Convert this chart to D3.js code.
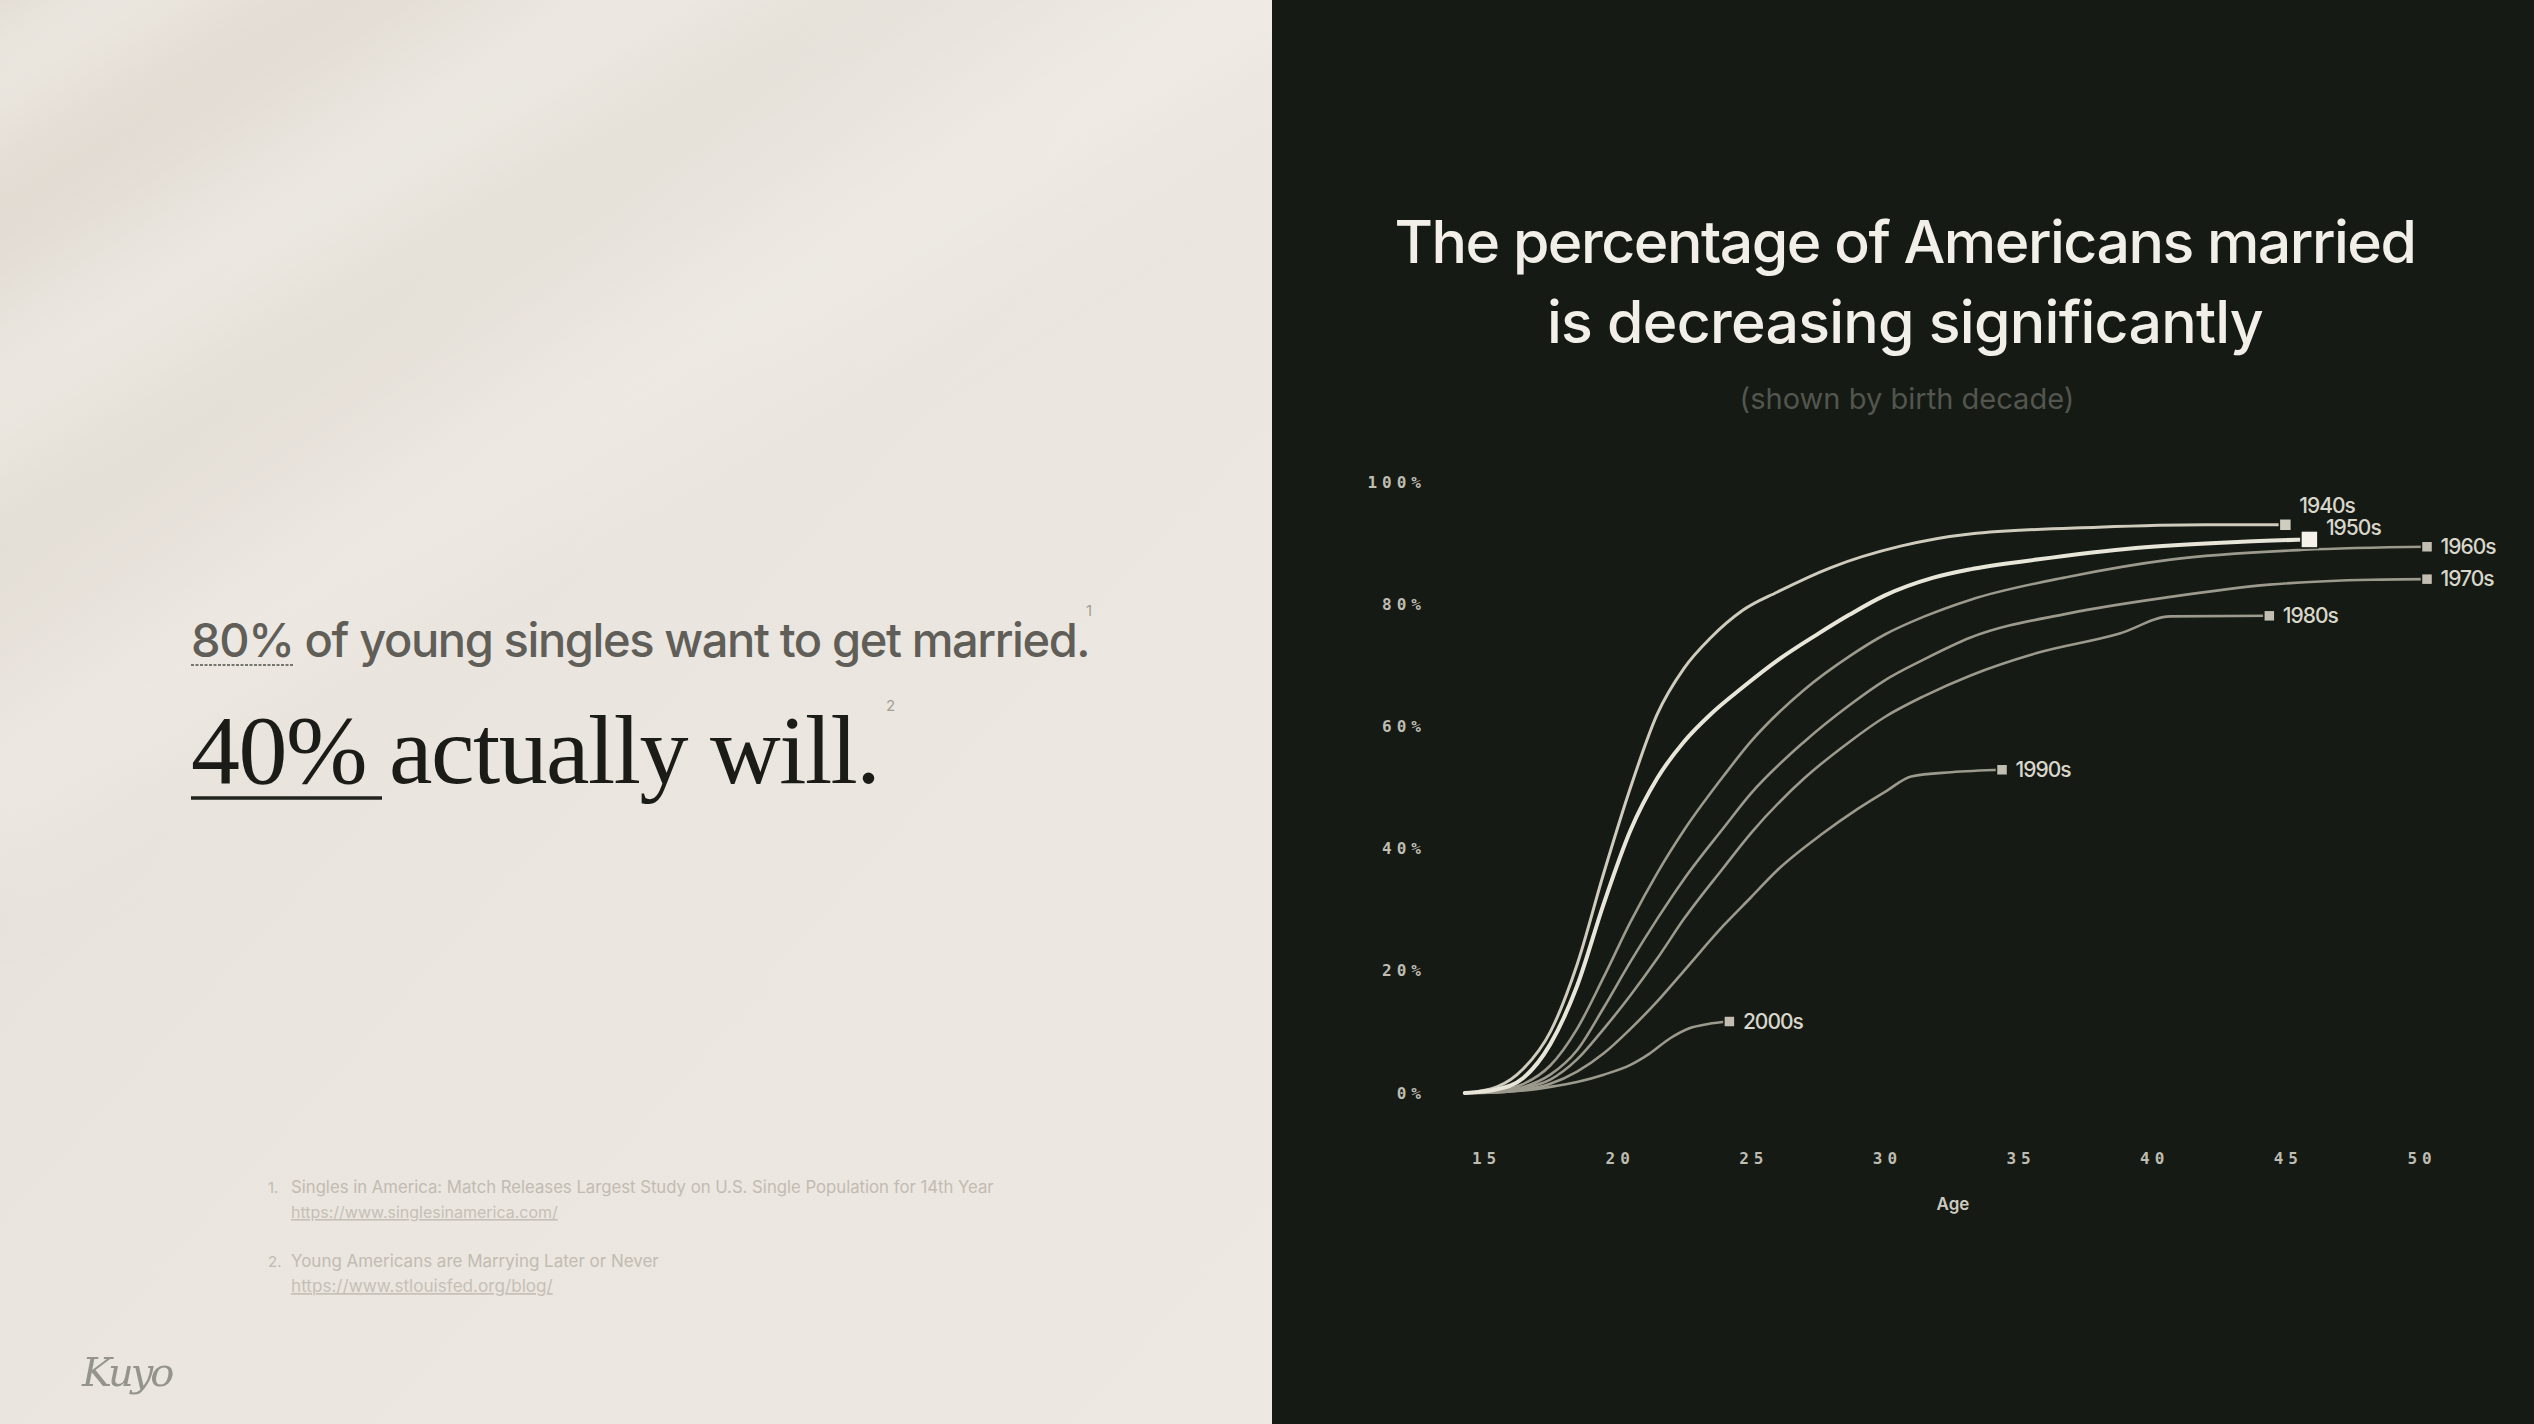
<!DOCTYPE html>
<html><head><meta charset="utf-8">
<script src="https://cdn.jsdelivr.net/npm/d3@7"></script>
<style>html,body{margin:0;padding:0;background:#151a14;overflow:hidden}svg{display:block}</style>
</head><body><svg id="c" width="2534" height="1424"></svg>
<script>
// ---------- data ----------
const decades = ["1940s","1950s","1960s","1970s","1980s","1990s","2000s"];
const ages1940s = [14.3,15.5,16.5,17.5,18.5,19.5,20.5,21.5,22.5,23.5,24.7,26,28,30.6,33.2,38,42,45];
const married1940s = [0,1,4,10,21,36,50,62,69.5,74.5,79,82,86,89.5,91.5,92.6,93,93];
const ages1950s = [14.3,15.5,16.5,17.5,18.5,19.5,20.5,21.5,22.5,23.5,24.7,26,27.5,28.7,30,31.8,33.2,35.7,39.4,43.2,45.9];
const married1950s = [0,0.6,2.5,8,17.5,31,43,51.5,57.5,62,66.4,70.8,75.1,78.3,81.4,84.3,85.7,87.3,89.2,90.2,90.6];
const ages1960s = [14.3,15.5,16.5,17.5,18.5,19.5,20.5,21.5,22.5,24,25,27,28.7,30,31.5,33.2,36.9,40.7,45.7,50.3];
const married1960s = [0,0.4,1.5,4.5,10.5,19,28,36,43,52,57.5,66,71.5,75,78,80.7,84.5,87.3,88.9,89.4];
const ages1970s = [14.3,15.5,16.5,17.5,18.5,19.5,20.5,21.5,22.5,24,25,27,28.7,30,31.5,33.2,36.9,40.7,44.4,48.2,50.3];
const married1970s = [0,0.3,1,3,7,14,21.5,28.5,35,43.5,49,57.5,63.5,67.5,71,74.5,78.5,81.2,83.2,84,84.1];
const ages1980s = [14.3,15.5,16.5,17.5,18.5,19.5,20.5,21.5,22.5,24,25,27,28.7,30,31.5,33.2,35.7,38.8,40.7,44.4];
const married1980s = [0,0.2,0.8,2.2,5.5,10.5,16,22,28.5,37,42.5,51.5,57.5,61.5,65,68.3,72,75.2,78,78.1];
const ages1990s = [14.3,15.5,16.5,17.5,18.5,19.5,20.5,21.5,22.5,24,25,26,27.7,29,30.1,31,32.5,34.4];
const married1990s = [0,0.1,0.5,1.5,3.5,6.5,10.5,15,20,27.5,32,36.5,42.5,46.5,49.5,51.8,52.5,52.9];
const ages2000s = [14.3,15.5,16.5,17.5,18.5,19.5,20.5,21.2,22,22.7,23.4,24.2];
const married2000s = [0,0.1,0.4,1,1.8,3,4.6,6.4,9,10.6,11.3,11.7];
const xTicks = [15,20,25,30,35,40,45,50];
const yTicks = [0,20,40,60,80,100];
const titleLines = ["The percentage of Americans married","is decreasing significantly"];
const subtitle = "(shown by birth decade)";
const xLabel = "Age";
const footnotes = [
  ["1.","Singles in America: Match Releases Largest Study on U.S. Single Population for 14th Year","https://www.singlesinamerica.com/"],
  ["2.","Young Americans are Marrying Later or Never","https://www.stlouisfed.org/blog/"]
];

const agesBy = [ages1940s,ages1950s,ages1960s,ages1970s,ages1980s,ages1990s,ages2000s];
const valsBy = [married1940s,married1950s,married1960s,married1970s,married1980s,married1990s,married2000s];
const series = decades.map((d,i)=>({name:d, points: agesBy[i].map((a,j)=>({age:a, v:valsBy[i][j]}))}));

// ---------- styles ----------
const seriesStyle = {
  "1940s":{stroke:"#cfcbbd", w:3, m:12, mf:"#cfccc0", ldy:-19},
  "1950s":{stroke:"#e8e5d9", w:4, m:17, mf:"#f4f2ea", ldy:-12},
  "1960s":{stroke:"#9c998d", w:2.6, m:11, mf:"#c2bfb2", ldy:0},
  "1970s":{stroke:"#9c998d", w:2.6, m:11, mf:"#c2bfb2", ldy:0},
  "1980s":{stroke:"#9c998d", w:2.6, m:11, mf:"#c2bfb2", ldy:0},
  "1990s":{stroke:"#9c998d", w:2.6, m:11, mf:"#c2bfb2", ldy:0},
  "2000s":{stroke:"#9c998d", w:2.6, m:11, mf:"#c2bfb2", ldy:0}
};

const svg = d3.select("#c");
const W = 2534, H = 1424, split = 1272;
const defs = svg.append("defs");

// left panel background
const g1 = defs.append("linearGradient").attr("id","bgL").attr("x1",0).attr("y1",0).attr("x2",1).attr("y2",1);
g1.append("stop").attr("offset",0).attr("stop-color","#e1dbd2");
g1.append("stop").attr("offset",0.45).attr("stop-color","#eae5de");
g1.append("stop").attr("offset",1).attr("stop-color","#ede8e2");
defs.append("filter").attr("id","blur").attr("x","-50%").attr("y","-50%").attr("width","200%").attr("height","200%")
  .append("feGaussianBlur").attr("stdDeviation",45);
defs.append("clipPath").attr("id","clipL").append("rect").attr("width",split).attr("height",H);

svg.append("rect").attr("width",W).attr("height",H).attr("fill","#151a14");
const left = svg.append("g").attr("clip-path","url(#clipL)");
left.append("rect").attr("width",split).attr("height",H).attr("fill","url(#bgL)");
const streaks = left.append("g").attr("filter","url(#blur)");
[[ -200, 150, 1400, 90, "#f7f4ef", .55],[-150, 420, 1600, 120, "#f6f3ee", .5],[-100, 760, 1800, 140, "#f4f0ea",.45],
 [-250, 40, 1200, 70, "#d6cfc4", .35],[-250, 300, 1400, 60, "#d9d2c8", .3],[-200, 600, 1500, 60, "#ddd6cc", .25]]
 .forEach(([x,y,w,h,c,o])=>{
  streaks.append("rect").attr("x",x).attr("y",y).attr("width",w).attr("height",h).attr("fill",c).attr("opacity",o)
    .attr("transform",`rotate(-32 ${x} ${y})`);
 });

// left text
const sans = "Inter, 'Noto Sans', sans-serif";
const t1 = svg.append("text").attr("x",191).attr("y",657).attr("font-family",sans).attr("font-weight",500)
  .attr("font-size",38).attr("letter-spacing",-1.4).attr("fill","#5f5e59").text("80% of young singles want to get married.");
fitSize(t1, 885);
svg.append("line").attr("x1",191).attr("x2",294).attr("y1",665).attr("y2",665).attr("stroke","#77756f").attr("stroke-width",2).attr("stroke-dasharray","3,1.5");
svg.append("text").attr("x",1086).attr("y",616).attr("font-family",sans).attr("font-size",15).attr("fill","#a29e96").text("1");

const t2 = svg.append("text").attr("x",191).attr("y",783).attr("font-family","'Liberation Serif', 'DejaVu Serif', serif")
  .attr("font-size",90).attr("letter-spacing",-1.5).attr("fill","#1b1b17").text("40% actually will.");
fitSize(t2, 686);
svg.append("line").attr("x1",191).attr("x2",382).attr("y1",798).attr("y2",798).attr("stroke","#22221e").attr("stroke-width",3.5);
svg.append("text").attr("x",886).attr("y",711).attr("font-family",sans).attr("font-size",15).attr("fill","#a29e96").text("2");

// footnotes
const fnY = [[1193,1218],[1267,1292]];
const fnW = [[703,267],[368,262]];
footnotes.forEach((f,i)=>{
  svg.append("text").attr("x",268).attr("y",fnY[i][0]).attr("font-family",sans).attr("font-size",15).attr("fill","#c2bbb1").text(f[0]);
  const a = svg.append("text").attr("x",291).attr("y",fnY[i][0]).attr("font-family",sans).attr("font-size",16).attr("fill","#c2bbb1").text(f[1]);
  fitSize(a, fnW[i][0]);
  const b = svg.append("text").attr("x",291).attr("y",fnY[i][1]).attr("font-family",sans).attr("font-size",16).attr("fill","#c6bfb5")
    .attr("text-decoration","underline").text(f[2]);
  fitSize(b, fnW[i][1]);
});
// logo
svg.append("text").attr("x",82).attr("y",1386).attr("font-family","'DejaVu Serif', serif").attr("font-style","italic")
  .attr("font-size",40).attr("fill","#7f8077").attr("letter-spacing",-3).attr("opacity",0.8).text("Kuyo");

// ---------- chart ----------
const x = d3.scaleLinear().domain([15,50]).range([1483.5,2419]);
const y = d3.scaleLinear().domain([0,100]).range([1093,482]);

// title
titleLines.forEach((t,i)=>{
  const el = svg.append("text").attr("x",1905).attr("y",[263,343][i]).attr("text-anchor","middle")
    .attr("font-family",sans).attr("font-weight",500).attr("font-size",59).attr("fill","#f1efe7").text(t);
  fitSpacing(el, [1021,716][i]);
});
const st = svg.append("text").attr("x",1907).attr("y",409).attr("text-anchor","middle").attr("font-family",sans)
  .attr("font-size",22).attr("fill","#53564e").text(subtitle);
fitSize(st, 335);

// axes
const mono = "'DejaVu Sans Mono', 'Liberation Mono', monospace";
const yAxis = svg.append("g").attr("transform","translate(1426,0)")
  .call(d3.axisLeft(y).tickValues(yTicks).tickSize(0).tickPadding(0).tickFormat(d=>d+"%"));
const xAxis = svg.append("g").attr("transform","translate(0,1093)")
  .call(d3.axisBottom(x).tickValues(xTicks).tickSize(0).tickPadding(60));
[yAxis,xAxis].forEach(a=>{
  a.select(".domain").remove();
  a.selectAll("text").attr("font-family",mono).attr("font-size",16).attr("letter-spacing",5)
    .attr("fill","#bfbcb1").attr("font-weight",700);
});
xAxis.selectAll("text").attr("dx",2.5);
svg.append("text").attr("x",1953).attr("y",1210).attr("text-anchor","middle").attr("font-family",sans)
  .attr("font-weight",600).attr("font-size",17).attr("fill","#cdcabe").text(xLabel);

// lines
const line = d3.line().x(d=>x(d.age)).y(d=>y(d.v)).curve(d3.curveMonotoneX);
const order = ["2000s","1990s","1980s","1970s","1960s","1940s","1950s"];
const lg = svg.append("g");
order.forEach(n=>{
  const s = series.find(d=>d.name===n), st = seriesStyle[n];
  lg.append("path").datum(s.points).attr("d",line).attr("fill","none").attr("stroke",st.stroke)
    .attr("stroke-width",st.w).attr("stroke-linecap","round").attr("stroke-linejoin","round");
});
// markers + labels
const mg = svg.append("g");
order.forEach(n=>{
  const s = series.find(d=>d.name===n), st = seriesStyle[n];
  const p = s.points[s.points.length-1];
  const cx = x(p.age), cy = y(p.v);
  mg.append("rect").attr("x",cx-st.m/2).attr("y",cy-st.m/2).attr("width",st.m).attr("height",st.m)
    .attr("fill",st.mf).attr("stroke","#151a14").attr("stroke-width",1.5);
  mg.append("text").attr("x",cx+st.m/2+8).attr("y",cy+st.ldy).attr("dy","0.35em").attr("font-family",sans)
    .attr("font-weight",500).attr("font-size",21).attr("letter-spacing",-1).attr("fill","#d9d6ca").text(n);
});

function fitSize(sel, target){
  const w = sel.node().getComputedTextLength();
  const fs = parseFloat(sel.attr("font-size"));
  sel.attr("font-size", fs*target/w);
}
function fitSpacing(sel, target){
  sel.attr("letter-spacing",0);
  const w = sel.node().getComputedTextLength();
  const n = sel.text().length;
  sel.attr("letter-spacing", (target-w)/n);
}
</script></body></html>
